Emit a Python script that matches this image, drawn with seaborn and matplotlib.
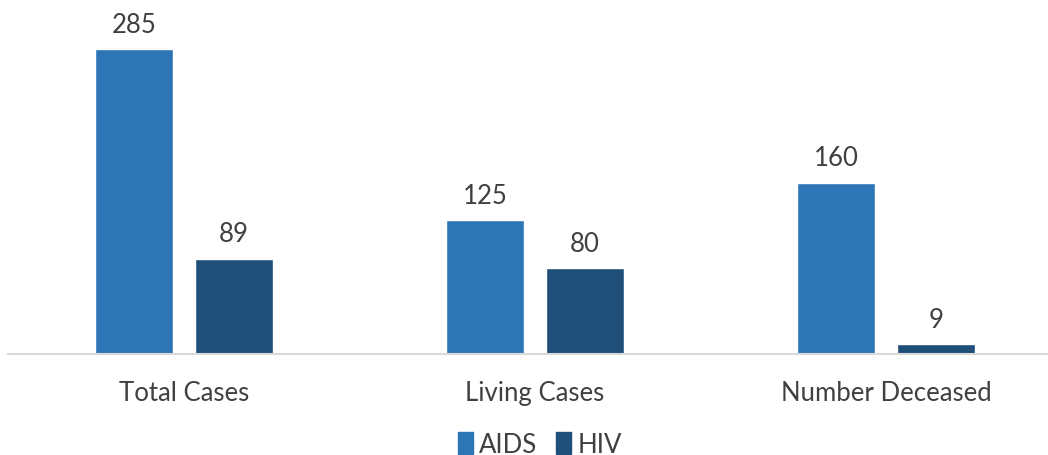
import matplotlib
matplotlib.use("Agg")
import matplotlib.pyplot as plt
import pandas as pd
import seaborn as sns

categories = ["Total Cases", "Living Cases", "Number Deceased"]
aids = [285, 125, 160]
hiv = [89, 80, 9]
series = ["AIDS", "HIV"]
colors = ["#2E75B6", "#1F4E79"]

df = pd.DataFrame({
    "category": categories * 2,
    "value": aids + hiv,
    "series": [series[0]] * len(aids) + [series[1]] * len(hiv),
})

sns.set_style("white")
plt.rcParams["font.family"] = ["Lato", "DejaVu Sans"]
text_color = "#404040"

fig = plt.figure(figsize=(10.48, 4.56), dpi=100)
ax = fig.add_axes([0.008, 0.222, 1.005, 0.778])

sns.barplot(data=df, x="category", y="value", hue="series", order=categories,
            hue_order=series, palette=colors, width=0.57, gap=0.22,
            saturation=1, ax=ax, legend=False)

for container in ax.containers:
    ax.bar_label(container, padding=9, fontsize=18.5, color=text_color)

ax.set_xlim(-0.5, 2.5)
ax.set_ylim(0, 332)
ax.set_xlabel("")
ax.set_ylabel("")
ax.set_yticks([])
for side in ["left", "right", "top"]:
    ax.spines[side].set_visible(False)
ax.spines["bottom"].set_color("#D9D9D9")
ax.spines["bottom"].set_linewidth(1.5)
ax.tick_params(axis="x", length=0, pad=19, labelsize=18.5, labelcolor=text_color)

handles = [plt.Rectangle((0, 0), 1, 1, color=c) for c in colors]
fig.legend(handles, series, loc="lower center", bbox_to_anchor=(0.515, -0.055),
           ncol=2, frameon=False, fontsize=18.5, handlelength=0.6,
           handleheight=0.9, handletextpad=0.25, columnspacing=0.7,
           labelcolor=text_color)

fig.savefig("out.png", dpi=100)
